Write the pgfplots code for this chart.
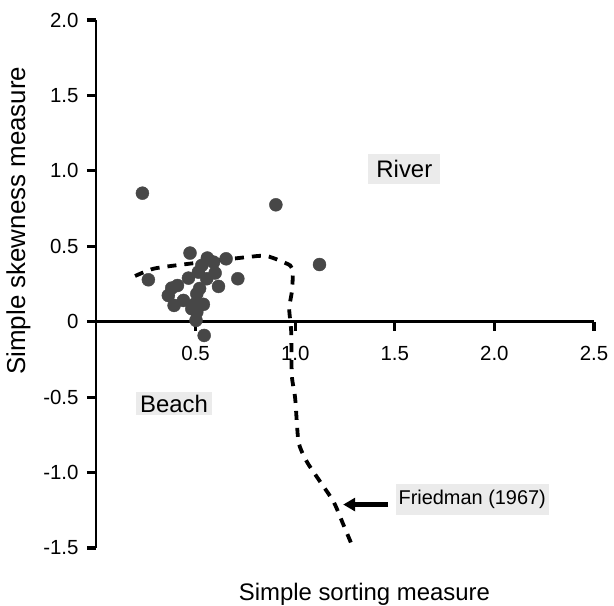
\documentclass[border=0pt]{standalone}
\usepackage{fontspec}
\setmainfont{Liberation Sans}
\usepackage{pgfplots}
\pgfplotsset{compat=1.18}
\usetikzlibrary{calc,arrows.meta}
\definecolor{dots}{HTML}{474747}
\definecolor{boxgray}{HTML}{EBEBEB}
\begin{document}
\begin{tikzpicture}
\begin{axis}[
  name=ax,
  scale only axis, width=498bp, height=528bp,
  xmin=0, xmax=2.5, ymin=-1.5, ymax=2.0,
  axis lines=middle,
  axis line style={-, line width=2.7bp, black},
  xtick={0.5,1.0,1.5,2.0,2.5}, xticklabels={0.5,1.0,1.5,2.0,2.5},
  ytick={-1.5,-1,-0.5,0,0.5,1,1.5,2}, yticklabels={-1.5,-1.0,-0.5,0,0.5,1.0,1.5,2.0},
  tick align=outside,
  major tick length=9bp,
  tick style={line width=3.2bp, black},
  every major tick/.append style={line width=3.2bp, black},
  tick label style={font=\fontsize{20.5}{24}\selectfont},
  xticklabel shift=12bp,
  yticklabel shift=5bp,
  hide obscured x ticks=false, hide obscured y ticks=false,
  xlabel={Simple sorting measure}, ylabel={Simple skewness measure},
  xlabel style={at={(rel axis cs:0.539,0)}, anchor=base, yshift=-52bp, font=\fontsize{24}{28}\selectfont},
  ylabel style={at={(rel axis cs:0,0.62)}, xshift=-62bp, rotate=90, anchor=south, font=\fontsize{26}{30}\selectfont},
  clip=false,
]
\addplot[only marks, mark=*, mark size=6.5bp, color=dots, mark options={fill=dots, draw=dots}] coordinates {
(0.233,0.852) (0.903,0.775) (1.122,0.379) (0.263,0.278) (0.472,0.455)
(0.653,0.417) (0.712,0.285) (0.615,0.234) (0.559,0.422) (0.590,0.395)
(0.598,0.323) (0.531,0.373) (0.514,0.329) (0.464,0.289) (0.556,0.285)
(0.409,0.240) (0.380,0.223) (0.363,0.174) (0.392,0.108) (0.439,0.141)
(0.506,0.185) (0.497,0.119) (0.539,0.115) (0.506,0.064) (0.502,0.009)
(0.543,-0.091) (0.481,0.086) (0.52,0.22)
};
\addplot[black, line width=3.8bp, dash pattern=on 9bp off 8bp, smooth, tension=0.4] coordinates {
(0.196,0.303) (0.288,0.351) (0.422,0.377) (0.757,0.428) (0.858,0.435)
(0.975,0.373) (0.988,0.318) (0.983,0.197) (0.970,0.086) (0.980,-0.066)
(0.983,-0.356) (1.0,-0.510) (1.017,-0.797) (1.059,-0.929) (1.126,-1.062)
(1.193,-1.194) (1.243,-1.349) (1.285,-1.481)
};
\node[fill=boxgray, inner xsep=8bp, inner ysep=6bp, font=\fontsize{24}{28}\selectfont] at (axis cs:1.548,1.013) {River};
\node[fill=boxgray, inner xsep=4bp, inner ysep=3bp, font=\fontsize{24}{28}\selectfont] at (axis cs:0.392,-0.543) {Beach};
\node[fill=boxgray, anchor=west, inner xsep=3bp, inner ysep=6bp, font=\fontsize{20}{24}\selectfont] at (axis cs:1.503,-1.18) {Friedman (1967)};
\draw[-{Triangle[length=12bp,width=13bp]}, line width=5bp] (axis cs:1.467,-1.212) -- (axis cs:1.241,-1.212);
\coordinate (bl) at (rel axis cs:0,0);
\coordinate (tr) at (rel axis cs:1,1);
\end{axis}
\pgfresetboundingbox
\path[use as bounding box] ($(bl)+(-96bp,-58bp)$) rectangle ($(tr)+(20bp,20bp)$);
\end{tikzpicture}
\end{document}
